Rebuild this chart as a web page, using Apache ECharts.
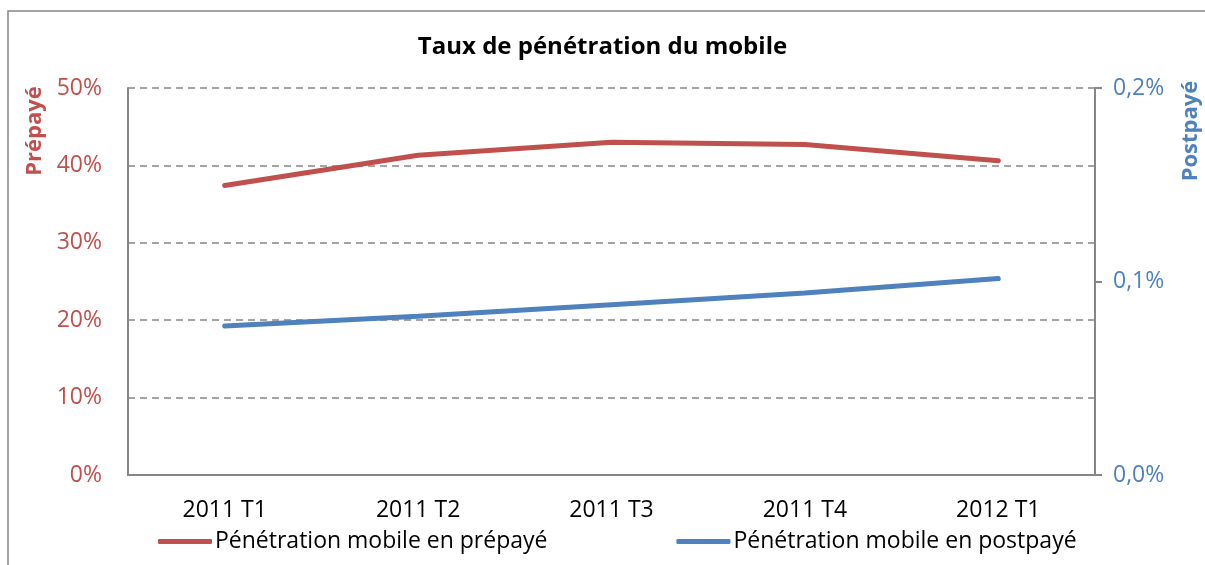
<!DOCTYPE html>
<html>
<head>
<meta charset="utf-8">
<script src="https://cdn.jsdelivr.net/npm/echarts@6/dist/echarts.min.js"></script>
<style>html,body{margin:0;padding:0;background:#fff}#c{width:1205px;height:565px}</style>
</head>
<body>
<div id="c"></div>
<script>
var categories = ['2011 T1', '2011 T2', '2011 T3', '2011 T4', '2012 T1'];
var prepaid = [37.4, 41.3, 43.0, 42.7, 40.6];      // %
var postpaid = [0.077, 0.082, 0.088, 0.094, 0.1015]; // %
var seriesNames = ['Pénétration mobile en prépayé', 'Pénétration mobile en postpayé'];
var titleText = 'Taux de pénétration du mobile';
var leftAxisName = 'Prépayé';
var rightAxisName = 'Postpayé';

var RED = '#C0504D', BLUE = '#4F81BD', GRAY = '#868686';
var FONT = 'Open Sans';
var chart = echarts.init(document.getElementById('c'));
chart.setOption({
  animation: false,
  textStyle: {fontFamily: FONT},
  title: {text: titleText, left: 'center', top: 30,
    textStyle: {fontFamily: FONT, fontSize: 24, fontWeight: 'bold', color: '#000'}},
  grid: {left: 128, right: 110, top: 88, bottom: 90},
  legend: {
    left: 158, top: 530, padding: 0, itemWidth: 54, itemHeight: 5, itemGap: 129,
    icon: 'roundRect',
    textStyle: {fontFamily: FONT, fontSize: 23, color: '#000', padding: [0,0,0,-2]},
    data: seriesNames
  },
  xAxis: {
    type: 'category', data: categories, boundaryGap: true,
    axisLine: {lineStyle: {color: GRAY, width: 2}},
    axisTick: {show: false},
    axisLabel: {fontFamily: FONT, fontSize: 23, color: '#000', margin: 24}
  },
  yAxis: [{
    type: 'value', min: 0, max: 50, interval: 10, position: 'left',
    axisLine: {show: true, lineStyle: {color: GRAY, width: 2}},
    axisTick: {show: false},
    axisLabel: {fontFamily: FONT, fontSize: 23, color: RED, margin: 26,
      formatter: function (v) { return v + '%'; }},
    splitLine: {show: true, lineStyle: {color: GRAY, type: [7, 5], width: 1.5}}
  }, {
    type: 'value', min: 0, max: 0.2, interval: 0.1, position: 'right',
    axisLine: {show: true, lineStyle: {color: GRAY, width: 2}},
    axisTick: {show: true, length: 7, lineStyle: {color: GRAY, width: 2}},
    axisLabel: {fontFamily: FONT, fontSize: 23, color: BLUE, margin: 18,
      formatter: function (v) { return v.toFixed(1).replace('.', ',') + '%'; }},
    splitLine: {show: false}
  }],
  graphic: [
    {type: 'rect', shape: {x: 8, y: 11, width: 1220, height: 580},
      style: {fill: 'none', stroke: GRAY, lineWidth: 1.5}, silent: true, z: -10},
    {type: 'text', x: 35, y: 131, rotation: Math.PI / 2,
      style: {text: leftAxisName, fill: RED, font: 'bold 22px "Open Sans"', align: 'center', verticalAlign: 'middle'}},
    {type: 'text', x: 1191, y: 131, rotation: Math.PI / 2,
      style: {text: rightAxisName, fill: BLUE, font: 'bold 22px "Open Sans"', align: 'center', verticalAlign: 'middle'}}
  ],
  series: [{
    name: seriesNames[0], type: 'line', yAxisIndex: 0, data: prepaid,
    symbol: 'none', lineStyle: {color: RED, width: 5, cap: 'round'}, itemStyle: {color: RED}
  }, {
    name: seriesNames[1], type: 'line', yAxisIndex: 1, data: postpaid,
    symbol: 'none', lineStyle: {color: BLUE, width: 5, cap: 'round'}, itemStyle: {color: BLUE}
  }]
});
</script>
</body>
</html>
